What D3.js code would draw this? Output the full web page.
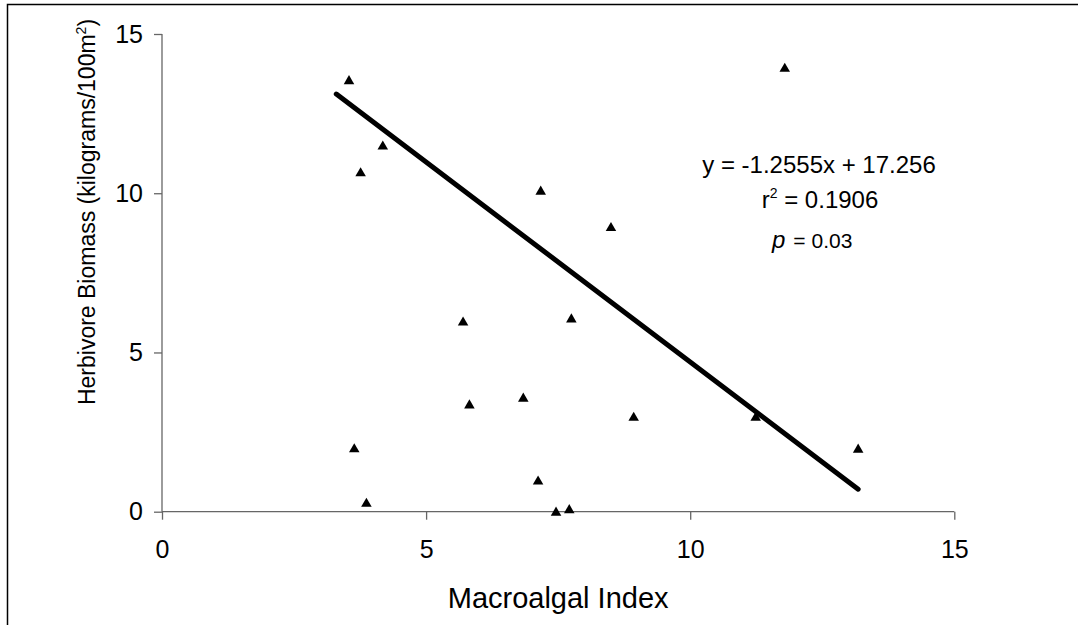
<!DOCTYPE html>
<html>
<head>
<meta charset="utf-8">
<script src="https://cdn.jsdelivr.net/npm/d3@7"></script>
<style>
  html, body { margin: 0; padding: 0; background: #fff; overflow: hidden; }
  text { font-family: "Liberation Sans", Arial, sans-serif; fill: #000; }
</style>
</head>
<body>
<svg id="chart" width="1078" height="625"></svg>
<script>
// ---- data ----
const macroalgalIndex = [3.54, 4.18, 3.76, 7.17, 8.50, 11.79, 5.70, 7.75, 5.82, 6.84, 8.93, 11.24, 3.64, 13.18, 7.12, 3.87, 7.46, 7.71];
const herbivoreBiomass = [13.55, 11.50, 10.66, 10.08, 8.94, 13.94, 5.97, 6.07, 3.37, 3.58, 2.98, 2.98, 1.99, 1.98, 0.98, 0.28, 0.00, 0.08];
const xTicks = [0, 5, 10, 15];
const yTicks = [0, 5, 10, 15];
const trendSlope = -1.2555;
const trendIntercept = 17.256;
const trendXRange = [3.30, 13.18];
const xTitle = "Macroalgal Index";
const eqText = "y = -1.2555x + 17.256";
const r2Value = "0.1906";
const pValue = "0.03";

// ---- layout ----
const svg = d3.select("#chart");
const x = d3.scaleLinear().domain([0, 15]).range([162, 954.3]);
const y = d3.scaleLinear().domain([0, 15]).range([511.7, 34]);

// outer frame (only top & left visible)
svg.append("rect")
  .attr("x", 7.5).attr("y", 4.5)
  .attr("width", 1200).attr("height", 800)
  .attr("fill", "none").attr("stroke", "#000").attr("stroke-width", 1.5);

// axes
const axisColor = "#666";
const xAxis = svg.append("g")
  .attr("transform", `translate(0,${y(0)})`)
  .call(d3.axisBottom(x).tickValues(xTicks).tickSize(8).tickPadding(21).tickFormat(d3.format("d")));
const yAxis = svg.append("g")
  .attr("transform", `translate(${x(0)},0)`)
  .call(d3.axisLeft(y).tickValues(yTicks).tickSize(8).tickPadding(11).tickFormat(d3.format("d")));
[xAxis, yAxis].forEach(g => {
  g.select(".domain").attr("stroke", axisColor).attr("stroke-width", 1.3);
  g.selectAll(".tick line").attr("stroke", axisColor).attr("stroke-width", 1.3);
  g.selectAll(".tick text").attr("fill", "#000")
    .style("font-family", "'Liberation Sans', Arial, sans-serif").style("font-size", "25px");
});
xAxis.select(".domain").attr("d", `M${x(0)},0H${x(15)}`);
yAxis.select(".domain").attr("d", `M0,${y(0)}V${y(15)}`);

// trend line
const lineGen = d3.line().x(d => x(d)).y(d => y(trendSlope * d + trendIntercept));
svg.append("path")
  .attr("d", lineGen(trendXRange))
  .attr("fill", "none").attr("stroke", "#000").attr("stroke-width", 5)
  .attr("stroke-linecap", "round");

// points
const tri = d3.symbol().type(d3.symbolTriangle).size(48);
svg.append("g").selectAll("path")
  .data(macroalgalIndex.map((v, i) => [v, herbivoreBiomass[i]]))
  .join("path")
  .attr("d", tri)
  .attr("transform", d => `translate(${x(d[0])},${y(d[1]) + 1})`)
  .attr("fill", "#000");

// axis titles
svg.append("text")
  .attr("x", (x(0) + x(15)) / 2).attr("y", 608)
  .attr("text-anchor", "middle").style("font-size", "29px")
  .text(xTitle);

const yt = svg.append("text")
  .attr("transform", "translate(95,212) rotate(-90)")
  .attr("text-anchor", "middle").style("font-size", "23px");
yt.append("tspan").text("Herbivore Biomass (kilograms/100m");
yt.append("tspan").attr("dy", -9).style("font-size", "14px").text("2");
yt.append("tspan").attr("dy", 9).text(")");

// equation annotation
svg.append("text")
  .attr("x", 819).attr("y", 173)
  .attr("text-anchor", "middle").style("font-size", "24px")
  .text(eqText);

const r2 = svg.append("text")
  .attr("x", 820).attr("y", 208)
  .attr("text-anchor", "middle").style("font-size", "24px");
r2.append("tspan").text("r");
r2.append("tspan").attr("dy", -10).style("font-size", "14px").text("2");
r2.append("tspan").attr("dy", 10).text(" = " + r2Value);

const pt = svg.append("text")
  .attr("x", 772).attr("y", 248)
  .attr("text-anchor", "start");
pt.append("tspan").style("font-size", "24px").style("font-style", "italic").text("p");
pt.append("tspan").attr("dx", 8).style("font-size", "21px").text("= " + pValue);
</script>
</body>
</html>
